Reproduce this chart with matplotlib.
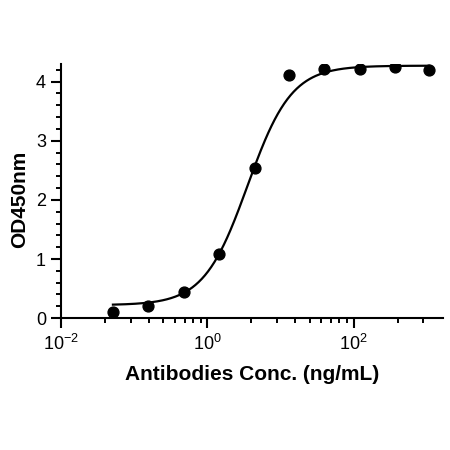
import numpy as np
import matplotlib.pyplot as plt
from matplotlib.ticker import FixedLocator, NullFormatter

plt.rcParams['font.family'] = ['Liberation Sans', 'DejaVu Sans']
plt.rcParams['mathtext.default'] = 'regular'

# measured points (ng/mL, OD450)
conc = [0.051, 0.154, 0.477, 1.46, 4.43, 13.0, 39.5, 121, 372, 1075]
od = [0.11, 0.21, 0.44, 1.09, 2.54, 4.12, 4.21, 4.21, 4.25, 4.20]

# 4PL fit parameters
BOTTOM, TOP, EC50, HILL = 0.22, 4.27, 3.55, 1.45

x_ticks = [1e-2, 1e0, 1e2]
x_ticklabels = [r'$10^{-2}$', r'$10^{0}$', r'$10^{2}$']
y_ticks = [0, 1, 2, 3, 4]

fig = plt.figure(figsize=(4.5, 4.5), dpi=100)
ax = fig.add_axes([0.136, 0.293, 0.848, 0.565])

xs = np.logspace(np.log10(conc[0]), np.log10(conc[-1]), 300)
fit = BOTTOM + (TOP - BOTTOM) / (1 + (EC50 / xs) ** HILL)
ax.plot(xs, fit, color='black', lw=1.6, zorder=2)
ax.plot(conc, od, 'o', color='black', ms=7.8, zorder=3)

ax.set_xscale('log')
ax.set_xlim(1e-2, 10 ** 3.22)
ax.set_ylim(0, 4.3)

# prism-style minor ticks: log spacing inside each two-decade interval
minor = []
for base in [1e-2, 1e0, 1e2]:
    for k in range(2, 10):
        v = base * k ** 2
        if v < 10 ** 3.2:
            minor.append(v)
ax.xaxis.set_major_locator(FixedLocator(x_ticks))
ax.set_xticklabels(x_ticklabels)
ax.xaxis.set_minor_locator(FixedLocator(minor))
ax.xaxis.set_minor_formatter(NullFormatter())

ax.set_yticks(y_ticks)
ax.yaxis.set_minor_locator(FixedLocator(np.arange(0.2, 4.3, 0.2)))

for s in ['top', 'right']:
    ax.spines[s].set_visible(False)
for s in ['left', 'bottom']:
    ax.spines[s].set_linewidth(1.5)

ax.tick_params(which='major', length=7, width=1.5, labelsize=13, pad=4)
ax.tick_params(which='minor', length=3.6, width=1.4)

fig.text(252 / 450, 1 - 375 / 450, 'Antibodies Conc. (ng/mL)', fontsize=15,
         fontweight='bold', ha='center', va='center')
fig.text(20 / 450, 1 - 199 / 450, 'OD450nm', fontsize=15, fontweight='bold',
         rotation=90, ha='center', va='center')

plt.savefig('out.png', dpi=100)
